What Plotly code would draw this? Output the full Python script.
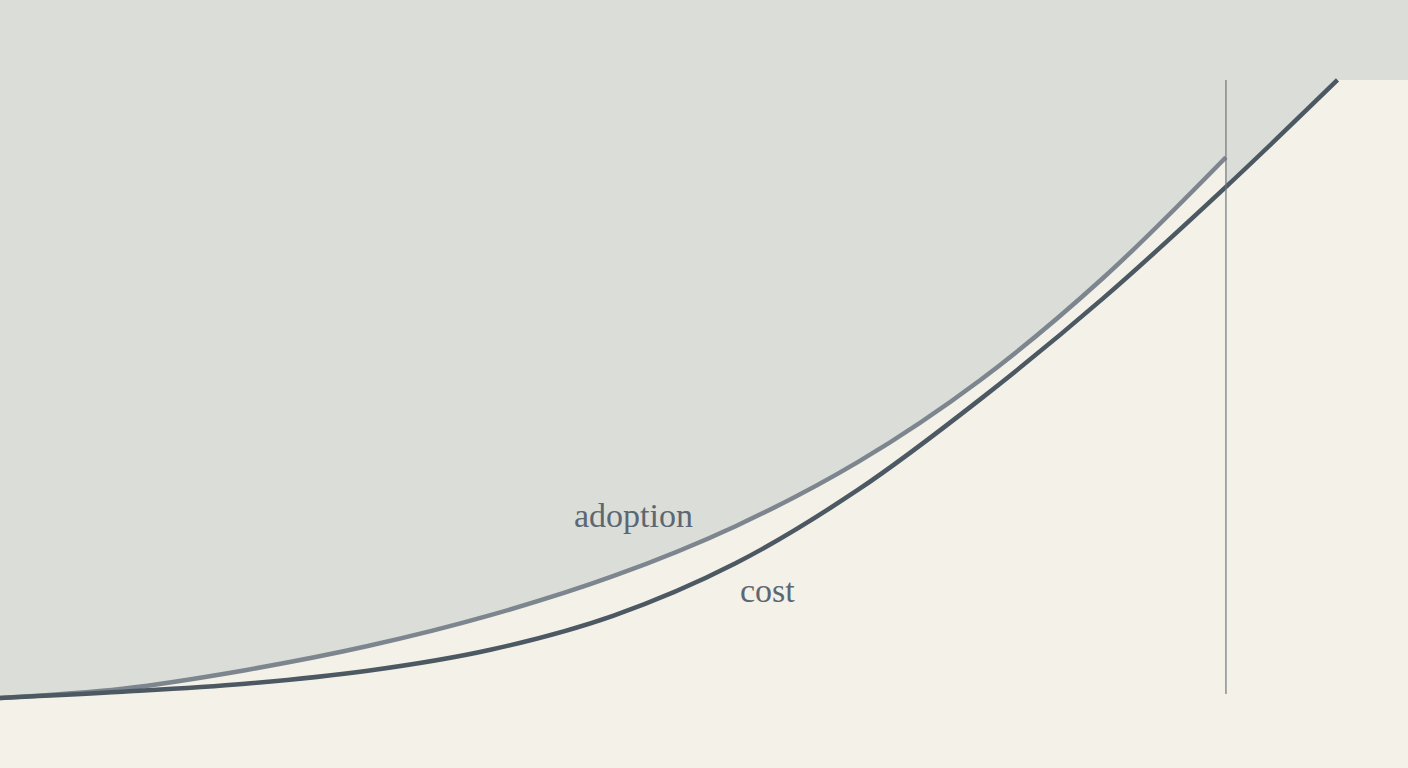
import plotly.graph_objects as go

# values (x in years, y in % of final cost)
years = [0, 1, 2, 3, 4, 5, 6, 7, 8, 9, 10]
adoption = [0, 1.5, 4.5, 8.4, 13.4, 19.7, 27.8, 38.2, 51.5, 68.0, 87.5]
cost_years = [0, 1, 2, 3, 4, 5, 6, 7, 8, 9, 10, 10.91]
cost = [0, 1.0, 2.3, 4.4, 7.8, 13.3, 21.8, 33.7, 48.4, 64.7, 82.7, 100]
marker_year = 10

cream = '#f3f1e8'
shade = '#dbded8'
x_range = [0, 11.485]
y_range = [-11.33, 112.94]
ceiling = y_range[1] + 10

fig = go.Figure()

# shade above adoption, up to the marker
fig.add_trace(go.Scatter(x=[x_range[0] - 1, marker_year], y=[ceiling, ceiling], mode='lines',
                         line=dict(width=0), hoverinfo='skip', showlegend=False))
fig.add_trace(go.Scatter(x=years, y=adoption, mode='lines', fill='tonexty', fillcolor=shade,
                         line=dict(width=0, shape='spline'), hoverinfo='skip', showlegend=False))

# shade above cost after the marker, then flat to the right edge
# (ceiling starts a hair left of the marker so the two fills overlap, no seam)
tail_x = [x for x in cost_years if x >= marker_year] + [x_range[1] + 1]
tail_y = [c for x, c in zip(cost_years, cost) if x >= marker_year] + [cost[-1]]
fig.add_trace(go.Scatter(x=[marker_year - 0.01, x_range[1] + 1], y=[ceiling, ceiling], mode='lines',
                         line=dict(width=0), hoverinfo='skip', showlegend=False))
fig.add_trace(go.Scatter(x=tail_x, y=tail_y, mode='lines', fill='tonexty', fillcolor=shade,
                         line=dict(width=0), hoverinfo='skip', showlegend=False))

fig.add_trace(go.Scatter(x=years, y=adoption, mode='lines', name='adoption',
                         line=dict(color='#7d868f', width=4.5, shape='spline'), showlegend=False))
fig.add_trace(go.Scatter(x=cost_years, y=cost, mode='lines', name='cost',
                         line=dict(color='#4c5862', width=4.5, shape='spline'), showlegend=False))

fig.add_shape(type='line', x0=marker_year, x1=marker_year, y0=0.65, y1=cost[-1],
              line=dict(color='#6d767c', width=1.2))

fig.add_annotation(x=5.17, y=29.6, text='adoption', showarrow=False,
                   font=dict(family='Liberation Serif', size=34, color='#5d6771'))
fig.add_annotation(x=6.26, y=17.4, text='cost', showarrow=False,
                   font=dict(family='Liberation Serif', size=34, color='#5d6771'))

fig.update_layout(
    width=1408, height=768,
    margin=dict(l=0, r=0, t=0, b=0),
    paper_bgcolor=cream, plot_bgcolor=cream,
    xaxis=dict(range=x_range, visible=False, fixedrange=True),
    yaxis=dict(range=y_range, visible=False, fixedrange=True),
)

fig.write_html('out.html', config={'displayModeBar': False},
               post_script="document.body.style.margin='0';document.body.style.overflow='hidden';")
